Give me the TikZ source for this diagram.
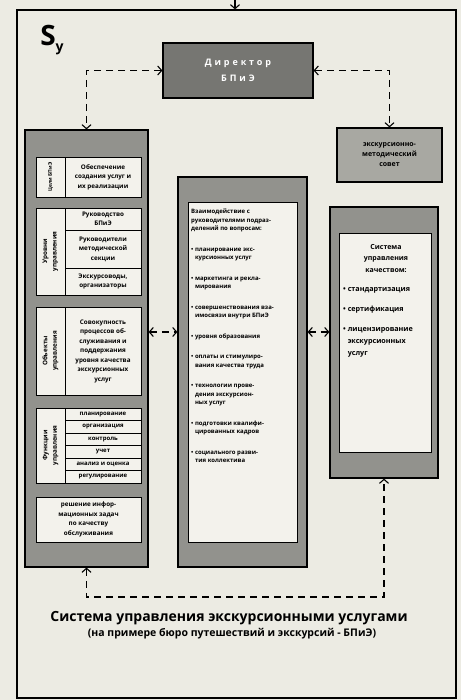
\documentclass[tikz,border=0pt]{standalone}
\usepackage{fontspec}
\setmainfont{Open Sans}
\usetikzlibrary{arrows.meta}

\definecolor{paper}{RGB}{236,235,227}
\definecolor{shade}{RGB}{146,146,141}
\definecolor{darkshade}{RGB}{118,118,114}
\definecolor{lightshade}{RGB}{168,168,162}
\definecolor{cellfill}{RGB}{243,242,236}

\tikzset{
  >={Straight Barb[length=4pt,width=9pt,line width=1.1pt]},
  column/.style={draw, fill=shade, line width=1.2pt, inner sep=0pt},
  cell/.style={draw, fill=cellfill, line width=0.9pt, inner sep=1pt, align=center,
    font=\fontsize{6.3}{9.5}\selectfont\bfseries},
  tag/.style={cell, rotate=90},
  row/.style={cell, font=\fontsize{6}{7}\selectfont\bfseries},
  dlink/.style={<->, line width=1.3pt, dash pattern=on 7pt off 5pt},
}

\begin{document}
\begin{tikzpicture}[x=1pt,y=-1pt]
  \fill[paper] (0,0) rectangle (461,700);
  \useasboundingbox (0,0) rectangle (461,700);

  % outer frame and incoming arrow
  \node[draw, line width=1.2pt, minimum width=439, minimum height=688, inner sep=0pt] (frame) at (236.5,354) {};
  \coordinate (feed) at (235,0);
  \draw[->, line width=1.3pt] (feed) -- (feed |- frame.north);
  \node[font=\fontsize{28}{28}\selectfont\bfseries, inner sep=0pt] (sy) at (52,40)
    {S\raisebox{-6pt}{\fontsize{14}{14}\selectfont у}};

  % top boxes
  \node[draw, fill=darkshade, line width=1.2pt, minimum width=150, minimum height=55, align=center,
    text=white, font=\fontsize{9}{16}\selectfont\bfseries\addfontfeature{LetterSpace=32}] (dir) at (238,70.5)
    {Директор\\БПиЭ};
  \node[draw, fill=lightshade, line width=1.2pt, minimum width=105, minimum height=54, align=center,
    font=\fontsize{7}{10}\selectfont\bfseries] (council) at (389.5,155)
    {экскурсионно-\\методический\\совет};

  % three columns
  \node[column, minimum width=123, minimum height=437] (lcol) at (86.5,348.5) {};
  \node[column, minimum width=129, minimum height=390] (mid) at (242.5,372) {};
  \node[column, minimum width=108, minimum height=271] (rcol) at (384,342.5) {};

  % left column: goals
  \node[tag, minimum width=40, minimum height=29, font=\fontsize{5}{6}\selectfont\bfseries] (goaltag) at (50.5,177) {Цели БПиЭ};
  \node[cell, minimum width=76, minimum height=40] (goal) at (103,177) {Обеспечение\\создания услуг и\\их реализации};

  % left column: levels
  \node[tag, minimum width=87, minimum height=29] (leveltag) at (50.5,251.5) {Уровни\\управления};
  \node[cell, minimum width=76, minimum height=22] (lvl1) at (103,219) {Руководство\\БПиЭ};
  \node[cell, minimum width=76, minimum height=38] (lvl2) at (103,249) {Руководители\\методической\\секции};
  \node[cell, minimum width=76, minimum height=27] (lvl3) at (103,281.5) {Экскурсоводы,\\организаторы};

  % left column: objects
  \node[tag, minimum width=88, minimum height=29] (objtag) at (50.5,351) {Объекты\\управления};
  \node[cell, minimum width=76, minimum height=88] (obj) at (103,351)
    {Совокупность\\процессов об-\\служивания и\\поддержания\\уровня качества\\экскурсионных\\услуг};

  % left column: functions
  \node[tag, minimum width=75, minimum height=29] (functag) at (50.5,445.5) {Функции\\управления};
  \node[row, minimum width=76, minimum height=12.5] (f1) at (103,414.25) {планирование};
  \node[row, minimum width=76, minimum height=12.5] (f2) at (103,426.75) {организация};
  \node[row, minimum width=76, minimum height=12.5] (f3) at (103,439.25) {контроль};
  \node[row, minimum width=76, minimum height=12.5] (f4) at (103,451.75) {учет};
  \node[row, minimum width=76, minimum height=12.5] (f5) at (103,464.25) {анализ и оценка};
  \node[row, minimum width=76, minimum height=12.5] (f6) at (103,476.75) {регулирование};

  % left column: information tasks
  \node[cell, minimum width=105, minimum height=45] (info) at (88.5,519.5)
    {решение инфор-\\мационных задач\\по качеству\\обслуживания};

  % middle column
  \node[cell, minimum width=109, minimum height=340] (midin) at (242.5,372) {};
  \node[anchor=north west, align=left, inner sep=0pt, font=\fontsize{6}{8.5}\selectfont\bfseries] (midtext) at (191,209)
    {Взаимодействие с\\руководителями подраз-\\делений по вопросам:\\[12pt]
     • планирование экс-\\\phantom{• }курсионных услуг\\[12pt]
     • маркетинга и рекла-\\\phantom{• }мирования\\[12pt]
     • совершенствования вза-\\\phantom{• }имосвязи внутри БПиЭ\\[12pt]
     • уровня образования\\[12pt]
     • оплаты и стимулиро-\\\phantom{• }вания качества труда\\[12pt]
     • технологии прове-\\\phantom{• }дения экскурсион-\\\phantom{• }ных услуг\\[12pt]
     • подготовки квалифи-\\\phantom{• }цированных кадров\\[12pt]
     • социального разви-\\\phantom{• }тия коллектива};

  % right column
  \node[cell, minimum width=92, minimum height=219] (rin) at (385,342.5) {};
  \node[anchor=north, align=center, inner sep=0pt, font=\fontsize{7}{11.5}\selectfont\bfseries] (qhead) at (386,244)
    {Система\\управления\\качеством:};
  \node[anchor=north west, align=left, inner sep=0pt, font=\fontsize{7.2}{12}\selectfont\bfseries] (qtext) at (343,287)
    {• стандартизация\\[8pt]
     • сертификация\\[8pt]
     • лицензирование\\\phantom{• }экскурсионных\\\phantom{• }услуг};

  % dashed connectors
  \coordinate (hy) at (0,332);
  \coordinate (by) at (0,597);
  \draw[dlink] (dir.west) -| (lcol.north);
  \draw[dlink] (dir.east) -| (council.north);
  \draw[dlink] (lcol.east |- hy) -- (mid.west |- hy);
  \draw[dlink] (mid.east |- hy) -- (rcol.west |- hy);
  \draw[dlink] (lcol.south) -- (lcol.south |- by) -| (rcol.south);

  % caption
  \node[font=\fontsize{14}{16}\selectfont\bfseries] (title) at (229,618) {Система управления экскурсионными услугами};
  \node[font=\fontsize{10.5}{12}\selectfont\bfseries] (subtitle) at (232,634) {(на примере бюро путешествий и экскурсий - БПиЭ)};
\end{tikzpicture}
\end{document}
